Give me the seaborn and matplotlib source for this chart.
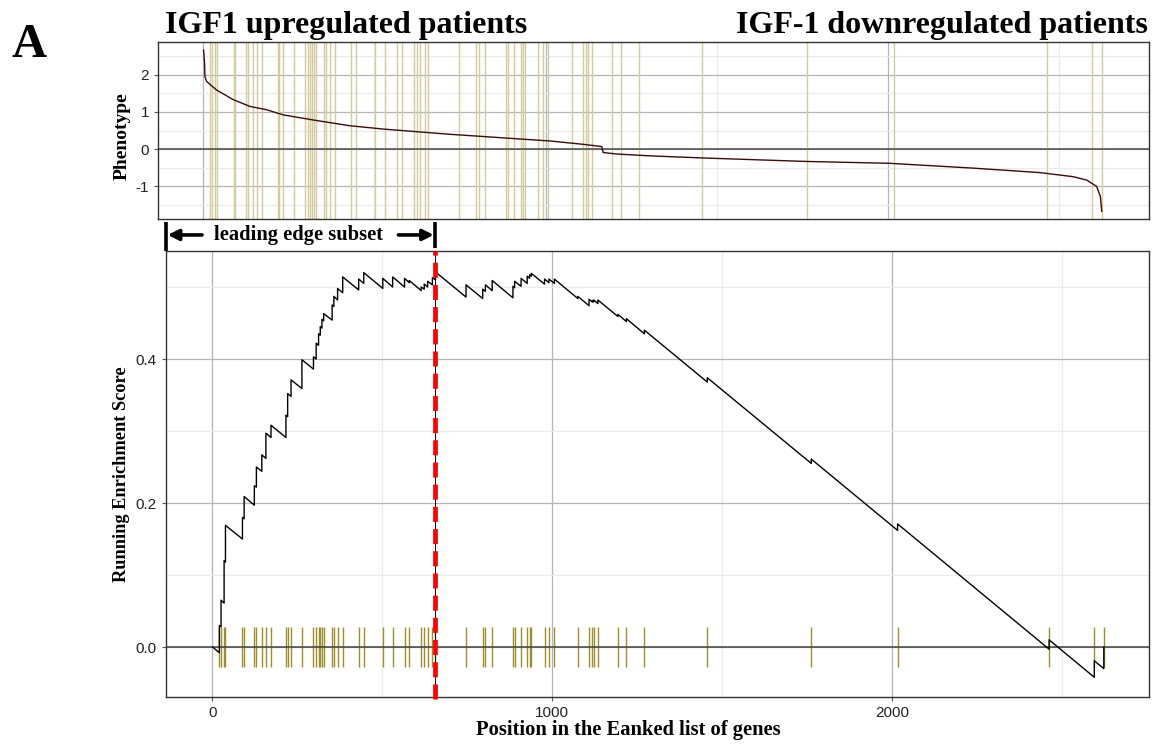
import matplotlib
matplotlib.use("Agg")
import matplotlib.pyplot as plt
import matplotlib.transforms as mtransforms
from matplotlib.ticker import FixedLocator, FuncFormatter
import pandas as pd
import seaborn as sns

# ---------------- data ----------------
hit_pos = [21, 26, 35, 39, 89, 94, 124, 130, 146, 158, 173, 217, 222, 232, 264,
           298, 306, 313, 318, 323, 328, 353, 358, 369, 384, 431, 446, 502, 531,
           566, 580, 615, 624, 634, 648, 657, 747, 796, 804, 824, 885, 890, 909,
           927, 934, 939, 978, 991, 1007, 1076, 1109, 1119, 1123, 1135, 1194,
           1219, 1272, 1457, 1763, 2017, 2463, 2596, 2624]
es_before = [-0.008, 0.028, 0.061, 0.118, 0.150, 0.178, 0.197, 0.222, 0.244, 0.262,
             0.291, 0.291, 0.320, 0.348, 0.359, 0.386, 0.400, 0.419, 0.433, 0.443,
             0.453, 0.454, 0.473, 0.482, 0.492, 0.496, 0.505, 0.498, 0.500, 0.500,
             0.506, 0.495, 0.497, 0.500, 0.503, 0.510, 0.486, 0.484, 0.494, 0.495,
             0.485, 0.499, 0.501, 0.505, 0.512, 0.515, 0.504, 0.506, 0.505, 0.484,
             0.474, 0.479, 0.4795, 0.477, 0.459, 0.452, 0.435, 0.368, 0.255, 0.162,
             -0.003, -0.042, -0.030]
es_after = [0.030, 0.065, 0.120, 0.169, 0.180, 0.209, 0.224, 0.250, 0.267, 0.297,
            0.308, 0.322, 0.352, 0.371, 0.399, 0.403, 0.422, 0.435, 0.445, 0.455,
            0.463, 0.475, 0.487, 0.498, 0.514, 0.511, 0.520, 0.512, 0.514, 0.512,
            0.509, 0.500, 0.504, 0.508, 0.513, 0.521, 0.503, 0.497, 0.503, 0.509,
            0.501, 0.508, 0.512, 0.515, 0.517, 0.519, 0.511, 0.511, 0.511, 0.487,
            0.483, 0.481, 0.482, 0.482, 0.462, 0.456, 0.440, 0.374, 0.261, 0.171,
            0.010, -0.019, 0.000]
es_start = (1, 0.0)
leading_edge_pos = 657

pheno_pos = [1, 4, 5, 10, 39, 88, 136, 185, 234, 331, 428, 526, 623, 720, 818, 915,
             1013, 1110, 1164, 1168, 1207, 1305, 1470, 1762, 2005, 2249, 2444, 2541,
             2580, 2609, 2620, 2624]
pheno_val = [2.67, 2.30, 1.95, 1.82, 1.59, 1.33, 1.15, 1.06, 0.92, 0.77, 0.63, 0.54,
             0.47, 0.40, 0.34, 0.28, 0.22, 0.13, 0.07, -0.09, -0.13, -0.18, -0.24,
             -0.33, -0.38, -0.51, -0.63, -0.74, -0.83, -1.00, -1.27, -1.68]

title_left = "IGF1 upregulated patients"
title_right = "IGF-1 downregulated patients"
panel_letter = "A"
ylabel_top = "Phenotype"
ylabel_bottom = "Running Enrichment Score"
xlabel_bottom = "Position in the Eanked list of genes"
le_label = "leading edge subset"

# ---------------- build the ES line table ----------------
es_x, es_y = [es_start[0]], [es_start[1]]
for p, b, a in zip(hit_pos, es_before, es_after):
    es_x += [p, p]
    es_y += [b, a]
es_df = pd.DataFrame({"pos": es_x, "es": es_y})
ph_df = pd.DataFrame({"pos": pheno_pos, "score": pheno_val})

# ---------------- style ----------------
sns.set_theme(style="white")
plt.rcParams['font.family'] = ['Liberation Sans', 'DejaVu Sans']
plt.rcParams['axes.unicode_minus'] = False
SERIF = ['Liberation Serif', 'DejaVu Serif']

W, H = 1153, 745
fig = plt.figure(figsize=(W / 100, H / 100), dpi=100)


def rect(l, t, r, b):
    return [l / W, 1 - b / H, (r - l) / W, (b - t) / H]


ax1 = fig.add_axes(rect(158, 42, 1149, 219.5))
ax2 = fig.add_axes(rect(166, 251, 1149, 697))

major_c, minor_c = "#b5b5b5", "#ebebeb"
for ax in (ax1, ax2):
    ax.set_facecolor("white")
    for s in ax.spines.values():
        s.set_visible(True)
        s.set_color("#333333")
        s.set_linewidth(1.0)
    ax.xaxis.set_major_locator(FixedLocator([0, 1000, 2000]))
    ax.xaxis.set_minor_locator(FixedLocator([500, 1500, 2500]))
    ax.grid(True, which="major", color=major_c, lw=0.9)
    ax.grid(True, which="minor", color=minor_c, lw=0.9)
    ax.set_axisbelow(True)
    ax.tick_params(which="major", length=3, width=0.8, color="#555555",
                   labelsize=11, labelcolor="#222222", left=True, bottom=True)
    ax.tick_params(which="minor", length=0)

# ---------------- top panel ----------------
ax1.set_xlim(-132, 2762)
ax1.set_ylim(-1.89, 2.88)
ax1.yaxis.set_major_locator(FixedLocator([-1, 0, 1, 2]))
ax1.yaxis.set_minor_locator(FixedLocator([-1.5, -0.5, 0.5, 1.5, 2.5]))
ax1.tick_params(axis="x", labelbottom=False, length=0)
ax1.vlines(hit_pos, 0, 1, transform=ax1.get_xaxis_transform(),
           color="#d3cb9c", lw=1.0, zorder=1)
ax1.axhline(0, color="#555555", lw=1.2, zorder=2)
sns.lineplot(data=ph_df, x="pos", y="score", ax=ax1, color="#3a0b0b", lw=1.0,
             estimator=None, sort=False, zorder=3)
ax1.set_xlabel("")
ax1.set_ylabel("")

# ---------------- bottom panel ----------------
ax2.set_xlim(-136, 2757)
ax2.set_ylim(-0.0694, 0.55)
ax2.yaxis.set_major_locator(FixedLocator([0.0, 0.2, 0.4]))
ax2.yaxis.set_minor_locator(FixedLocator([0.1, 0.3, 0.5]))
ax2.yaxis.set_major_formatter(FuncFormatter(lambda v, p: f"{v:.1f}"))
ax2.vlines(hit_pos, -0.028, 0.028, color="#9c8f2a", lw=1.0, zorder=1)
ax2.axhline(0, color="#444444", lw=1.1, zorder=2)
sns.lineplot(data=es_df, x="pos", y="es", ax=ax2, color="black", lw=1.0,
             estimator=None, sort=False, zorder=3)
ax2.set_xlabel("")
ax2.set_ylabel("")
ax2.axvline(leading_edge_pos, color="black", lw=0.7, zorder=4)
ax2.axvline(leading_edge_pos, ymin=-0.005, ymax=1, color="#ff0000", lw=3.4,
            linestyle=(0, (3.2, 1.5)), zorder=5, clip_on=False)

# leading edge bracket
trans = mtransforms.blended_transform_factory(ax2.transData, ax2.transAxes)
xl = ax2.get_xlim()[0]
ax2.plot([xl, xl], [1.0, 1.066], transform=trans, color="black", lw=2.6,
         clip_on=False, solid_capstyle="butt")
ax2.plot([leading_edge_pos, leading_edge_pos], [1.007, 1.066], transform=trans,
         color="black", lw=2.6, clip_on=False, solid_capstyle="butt")
ax2.annotate("", xy=(xl + 5, 1.036), xytext=(-30, 1.036), xycoords=trans,
             textcoords=trans,
             arrowprops=dict(arrowstyle="-|>", lw=2.6, color="black",
                             mutation_scale=16, shrinkA=0, shrinkB=0))
ax2.annotate("", xy=(leading_edge_pos - 5, 1.036), xytext=(548, 1.036),
             xycoords=trans, textcoords=trans,
             arrowprops=dict(arrowstyle="-|>", lw=2.6, color="black",
                             mutation_scale=16, shrinkA=0, shrinkB=0))
ax2.text(253, 1.036, le_label, transform=trans, ha="center", va="center",
         fontsize=14.8, fontweight="bold", family=SERIF, color="black")

# ---------------- texts ----------------
fig.text(165 / W, 1 - 33 / H, title_left, ha="left", va="baseline",
         fontsize=23, fontweight="bold", family=SERIF, color="black")
fig.text(1148 / W, 1 - 33 / H, title_right, ha="right", va="baseline",
         fontsize=23, fontweight="bold", family=SERIF, color="black")
fig.text(12 / W, 1 - 57 / H, panel_letter, ha="left", va="baseline",
         fontsize=35, fontweight="bold", family=SERIF, color="black")
fig.text(122 / W, 1 - 136 / H, ylabel_top, rotation=90, ha="center",
         va="center", fontsize=14, fontweight="bold", family=SERIF, color="black")
fig.text(122 / W, 1 - 474 / H, ylabel_bottom, rotation=90, ha="center",
         va="center", fontsize=13.2, fontweight="bold", family=SERIF, color="black")
fig.text(628 / W, 1 - 730 / H, xlabel_bottom, ha="center", va="center",
         fontsize=14.8, fontweight="bold", family=SERIF, color="black")

fig.savefig("out.png", dpi=100)
